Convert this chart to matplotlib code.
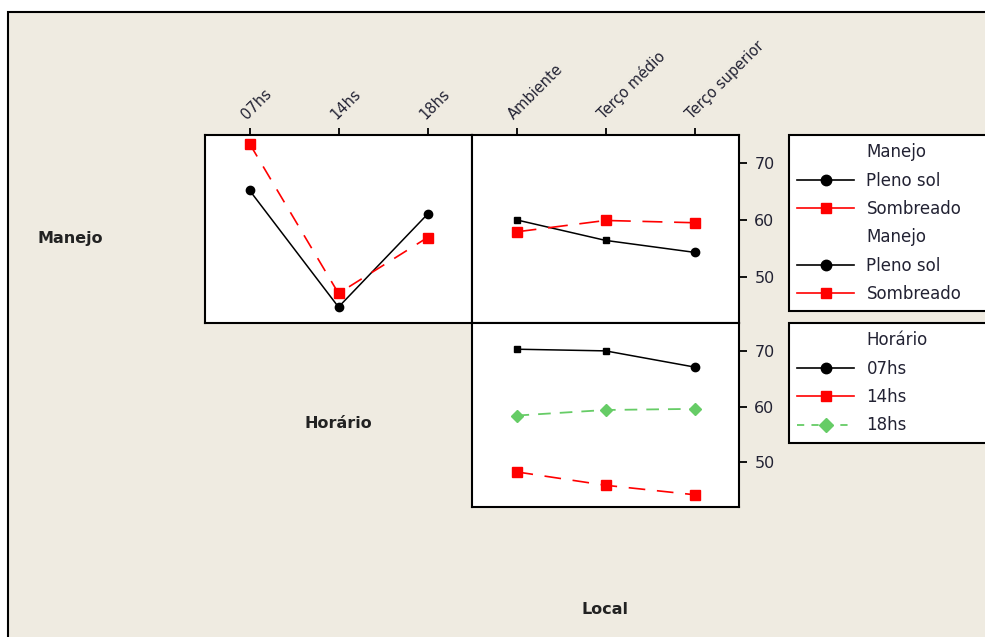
import matplotlib
matplotlib.use('Agg')
import matplotlib.pyplot as plt
from matplotlib.lines import Line2D
from matplotlib.patches import Rectangle

# Categorias
horarios = ['07hs', '14hs', '18hs']
locais = ['Ambiente', 'Terço médio', 'Terço superior']

# Manejo x Horário
pleno_por_horario = [65.3, 44.8, 61.1]
sombreado_por_horario = [73.5, 47.2, 57.0]

# Manejo x Local
pleno_por_local = [60.1, 56.5, 54.4]
sombreado_por_local = [58.0, 60.0, 59.6]

# Horário x Local
h07_por_local = [70.3, 70.0, 67.1]
h14_por_local = [48.3, 45.9, 44.2]
h18_por_local = [58.4, 59.4, 59.6]

y_ticks = [50, 60, 70]

FUNDO = '#EFEBE1'
VERMELHO = '#FF0000'
VERDE = '#66CC66'

plt.rcParams['font.family'] = 'DejaVu Sans'

fig = plt.figure(figsize=(9.85, 6.37), dpi=100, facecolor='white')
W, H = 985, 637

# moldura bege da janela
fig.patches.append(Rectangle((8 / W, -0.1), 1.2, 1.1 - 12 / H, transform=fig.transFigure,
                             facecolor=FUNDO, edgecolor='black', lw=1.5, zorder=-10))


def painel(x0, y0, x1, y1):
    ax = fig.add_axes([x0 / W, 1 - y1 / H, (x1 - x0) / W, (y1 - y0) / H])
    ax.set_xlim(0.5, 3.5)
    ax.set_ylim(42, 75)
    for s in ax.spines.values():
        s.set_linewidth(1.5)
    ax.set_xticks([])
    ax.set_yticks([])
    return ax


def serie(ax, vals, cor, marcadores, ms, dashes=None, lw=1.1):
    x = list(range(1, len(vals) + 1))
    ln, = ax.plot(x, vals, color=cor, lw=lw)
    if dashes:
        ln.set_dashes(dashes)
    for xi, yi, m in zip(x, vals, marcadores):
        ax.plot(xi, yi, marker=m, color=cor, ms=ms if m != 's' or cor != 'black' else ms - 1.5,
                ls='none')


def eixo_topo(ax, rotulos):
    ax.xaxis.tick_top()
    ax.set_xticks([1, 2, 3])
    ax.set_xticklabels(rotulos, rotation=45, ha='left', va='bottom',
                       rotation_mode='anchor', fontsize=10.5, color='#222233')
    ax.tick_params(axis='x', direction='out', length=5, width=1.3, pad=4)


def eixo_direita(ax):
    ax.yaxis.tick_right()
    ax.set_yticks(y_ticks)
    ax.tick_params(axis='y', direction='out', length=6, width=1.3, pad=5,
                   labelsize=11.5, labelcolor='#222233')


# Manejo x Horário
ax1 = painel(205, 135, 472, 323)
serie(ax1, pleno_por_horario, 'black', ['o', 'o', 'o'], 6)
serie(ax1, sombreado_por_horario, VERMELHO, ['s', 's', 's'], 6.5, dashes=(9, 7), lw=1.2)
eixo_topo(ax1, horarios)

# Manejo x Local
ax2 = painel(472, 135, 739, 323)
serie(ax2, pleno_por_local, 'black', ['s', 's', 'o'], 6)
serie(ax2, sombreado_por_local, VERMELHO, ['s', 's', 's'], 6.5, dashes=(12, 7), lw=1.2)
eixo_topo(ax2, locais)
eixo_direita(ax2)

# Horário x Local
ax3 = painel(472, 323, 739, 507)
serie(ax3, h07_por_local, 'black', ['s', 's', 'o'], 6)
serie(ax3, h14_por_local, VERMELHO, ['s', 's', 's'], 6.5, dashes=(10, 7), lw=1.2)
serie(ax3, h18_por_local, VERDE, ['D', 'D', 'D'], 6.5, dashes=(7, 5), lw=1.3)
eixo_direita(ax3)

# rótulos dos fatores
fig.text(70 / W, 1 - 239 / H, 'Manejo', ha='center', va='center', fontsize=11.5,
         fontweight='bold', color='#222222')
fig.text(338 / W, 1 - 424 / H, 'Horário', ha='center', va='center', fontsize=11.5,
         fontweight='bold', color='#222222')
fig.text(605 / W, 1 - 609 / H, 'Local', ha='center', va='center', fontsize=11.5,
         fontweight='bold', color='#222222')

# legendas (caixas vão até a borda direita)
vazio = Line2D([], [], ls='none')
h_pleno = Line2D([], [], color='black', marker='o', ms=7.5, lw=1.2)
h_somb = Line2D([], [], color=VERMELHO, marker='s', ms=7.5, lw=1.2)
h_18 = Line2D([], [], color=VERDE, marker='D', ms=7.5, lw=1.3, dashes=(4, 4))

opts = dict(loc='upper left', mode='expand', frameon=True, fancybox=False,
            edgecolor='black', facecolor='white', framealpha=1, handlelength=3.4,
            handletextpad=0.75, labelspacing=0.62, borderpad=0.5, fontsize=12,
            borderaxespad=0)

larg = (1010 - 789) / W
leg1 = fig.legend([vazio, h_pleno, h_somb, vazio, h_pleno, h_somb],
                  ['Manejo', 'Pleno sol', 'Sombreado', 'Manejo', 'Pleno sol', 'Sombreado'],
                  bbox_to_anchor=(789 / W, 1 - 135 / H, larg, 0), **opts)
leg1.get_frame().set_linewidth(1.5)

leg2 = fig.legend([vazio, h_pleno, h_somb, h_18],
                  ['Horário', '07hs', '14hs', '18hs'],
                  bbox_to_anchor=(789 / W, 1 - 323 / H, larg, 0), **opts)
leg2.get_frame().set_linewidth(1.5)
for leg in (leg1, leg2):
    for t in leg.get_texts():
        t.set_color('#222233')

fig.savefig('out.png', dpi=100, facecolor='white')
